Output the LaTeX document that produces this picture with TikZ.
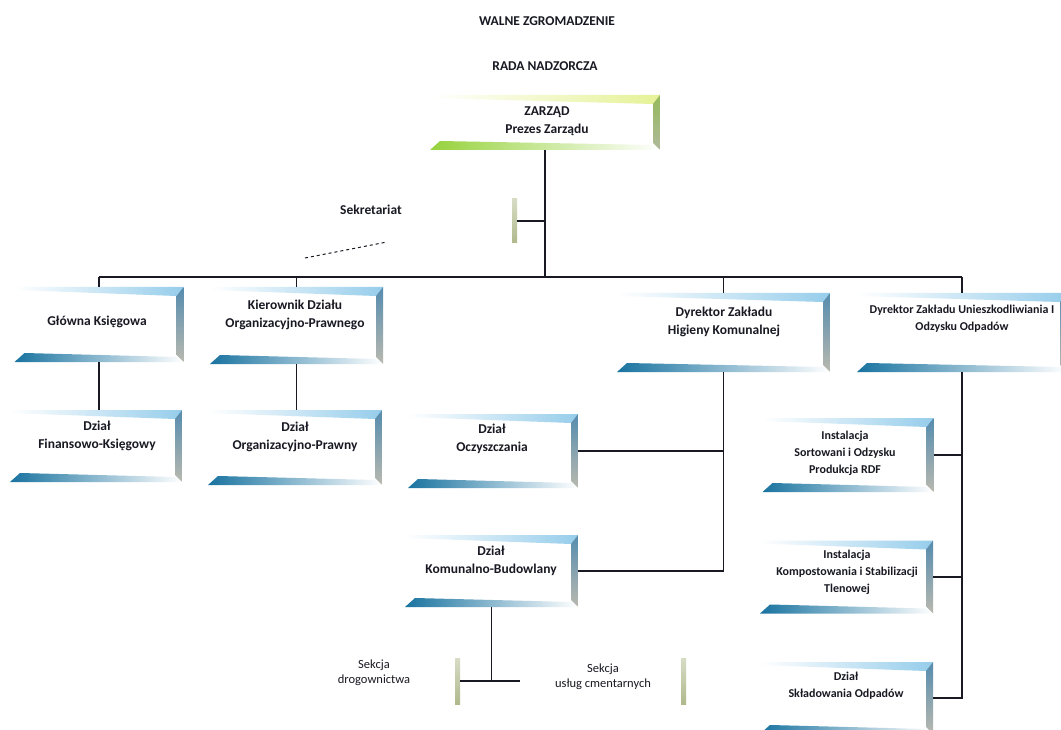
\documentclass[tikz,border=0pt]{standalone}
\usepackage{fontspec}
\setmainfont{Carlito}
\usetikzlibrary{calc}
\definecolor{inkc}{RGB}{25,25,35}
\definecolor{bvtop}{RGB}{150,205,235}
\definecolor{bvr1}{RGB}{85,140,175}
\definecolor{bvr2}{RGB}{185,185,175}
\definecolor{bvbot}{RGB}{25,115,160}
\definecolor{bvmid}{RGB}{205,212,220}
\definecolor{gvtop}{RGB}{230,242,150}
\definecolor{gvr1}{RGB}{150,185,90}
\definecolor{gvr2}{RGB}{175,185,155}
\definecolor{gvbot}{RGB}{150,210,60}
\definecolor{gvmid}{RGB}{215,238,170}
\definecolor{stripc}{RGB}{175,185,140}
\tikzset{
  x=1pt, y=-1pt,
  conn/.style={draw=inkc, line width=1.1pt},
  lbl/.style={font=\bfseries\fontsize{13.5}{18.5}\selectfont, text=inkc, align=center, inner sep=0pt},
  lbls/.style={lbl, font=\bfseries\fontsize{12}{17}\selectfont},
  lblr/.style={lbl, font=\fontsize{12.5}{15}\selectfont},
  bevel/.style n args={6}{rectangle, inner sep=0pt, path picture={
    \coordinate (pNW) at (path picture bounding box.north west);
    \coordinate (pNE) at (path picture bounding box.north east);
    \coordinate (pSW) at (path picture bounding box.south west);
    \coordinate (pSE) at (path picture bounding box.south east);
    \shade[left color=white, middle color=white!85!#1, right color=#1]
      (pNW) -- (pNE) -- ([xshift=-7pt,yshift=-9pt]pNE) -- ([yshift=-3pt]pNW) -- cycle;
    \shade[top color=#2, bottom color=#3]
      (pNE) -- (pSE) -- ([xshift=-7pt,yshift=7pt]pSE) -- ([xshift=-7pt,yshift=-9pt]pNE) -- cycle;
    \shade[left color=#4, middle color=#5, right color=#6]
      (pSW) -- (pSE) -- ([xshift=-7pt,yshift=5pt]pSE) -- ([xshift=10pt,yshift=9pt]pSW) -- cycle;
  }},
  bluebox/.style={bevel={bvtop}{bvr1}{bvr2}{bvbot}{bvmid}{white}},
  greenbox/.style={bevel={gvtop}{gvr1}{gvr2}{gvbot}{gvmid}{white}},
  stripbox/.style={rectangle, inner sep=0pt, path picture={
    \shade[top color=stripc!50, bottom color=stripc]
      ([xshift=-5pt]path picture bounding box.north east) rectangle (path picture bounding box.south east);
  }},
}
\begin{document}
\begin{tikzpicture}
\useasboundingbox[fill=white] (0,0) rectangle (1061,730);

% titles
\node[lbl] (walne) at (547,21) {WALNE ZGROMADZENIE};
\node[lbl] (rada) at (545,66) {RADA NADZORCZA};

% boxes
\node[greenbox, minimum width=230pt, minimum height=55pt] (zarz) at (545,122.5) {};
\node[lbl] (zarzt) at (547,121) {ZARZĄD\\Prezes Zarządu};

\node[stripbox, minimum width=287pt, minimum height=44pt] (sekr) at (373.5,221) {};
\node[lbl] (sekrt) at (371,210) {Sekretariat};

\node[bluebox, minimum width=169pt, minimum height=75pt] (gk) at (99,324.5) {};
\node[lbl] (gkt) at (97,322) {Główna Księgowa};

\node[bluebox, minimum width=173pt, minimum height=77pt] (kier) at (296.5,325.5) {};
\node[lbl] (kiert) at (295,315) {Kierownik Działu\\Organizacyjno-Prawnego};

\node[bluebox, minimum width=213pt, minimum height=79pt] (dhk) at (723.5,332.5) {};
\node[lbl] (dhkt) at (724,322) {Dyrektor Zakładu\\Higieny Komunalnej};

\node[bluebox, minimum width=210pt, minimum height=79pt] (dzu) at (962,332.5) {};
\node[lbls] (dzut) at (962,319) {Dyrektor Zakładu Unieszkodliwiania I\\Odzysku Odpadów};

\node[bluebox, minimum width=172pt, minimum height=72pt] (dfk) at (96,446) {};
\node[lbl] (dfkt) at (97,436) {Dział\\Finansowo-Księgowy};

\node[bluebox, minimum width=174pt, minimum height=75pt] (dop) at (295,447.5) {};
\node[lbl] (dopt) at (295,437) {Dział\\Organizacyjno-Prawny};

\node[bluebox, minimum width=170pt, minimum height=74pt] (doc) at (493,451) {};
\node[lbl] (doct) at (492,439) {Dział\\Oczyszczania};

\node[bluebox, minimum width=173pt, minimum height=72pt] (dkb) at (491.5,571) {};
\node[lbl] (dkbt) at (491,561) {Dział\\Komunalno-Budowlany};

\node[stripbox, minimum width=176pt, minimum height=46pt] (sd) at (372,681) {};
\node[lblr] (sdt) at (374,673) {Sekcja\\drogownictwa};

\node[stripbox, minimum width=166pt, minimum height=46pt] (suc) at (603,681) {};
\node[lblr] (suct) at (603,677) {Sekcja\\usług cmentarnych};

\node[bluebox, minimum width=171pt, minimum height=74pt] (isr) at (848,455) {};
\node[lbls] (isrt) at (845,453) {Instalacja\\Sortowani i Odzysku\\Produkcja RDF};

\node[bluebox, minimum width=173pt, minimum height=73pt] (iks) at (846.5,577) {};
\node[lbls] (ikst) at (847,572) {Instalacja\\Kompostowania i Stabilizacji\\Tlenowej};

\node[bluebox, minimum width=173pt, minimum height=72pt] (dso) at (846.5,698) {};
\node[lbls] (dsot) at (846,686) {Dział\\Składowania Odpadów};

% connectors
\coordinate (busL) at (99,277);
\coordinate (busR) at (962,277);
\draw[conn] (busL) -- (busR);
\draw[conn] (zarz.south) -- (zarz.south |- busL);
\draw[conn] (sekr.east) -- (zarz.south |- sekr.east);
\draw[conn] (gk.north) -- (gk.north |- busL);
\draw[conn] (kier.north) -- (kier.north |- busL);
\draw[conn] (dhk.north) -- (dhk.north |- busL);
\draw[conn] (dzu.north) -- (dzu.north |- busL);

\coordinate (ds1) at (305,258);
\coordinate (ds2) at (387,242);
\draw[conn, dashed, line width=1pt] (ds1) -- (ds2);

\draw[conn] (gk.south) -- (gk.south |- dfk.north);
\draw[conn] (kier.south) -- (kier.south |- dop.north);

\draw[conn] (dhk.south) |- (doc.east);
\draw[conn] (dhk.south) |- (dkb.east);

\draw[conn] (dkb.south) -- (dkb.south |- sd.east);
\draw[conn] (sd.east) -- (suc.west);

\draw[conn] (dzu.south) |- (isr.east);
\draw[conn] (dzu.south) |- (iks.east);
\draw[conn] (dzu.south) |- (dso.east);
\end{tikzpicture}
\end{document}
